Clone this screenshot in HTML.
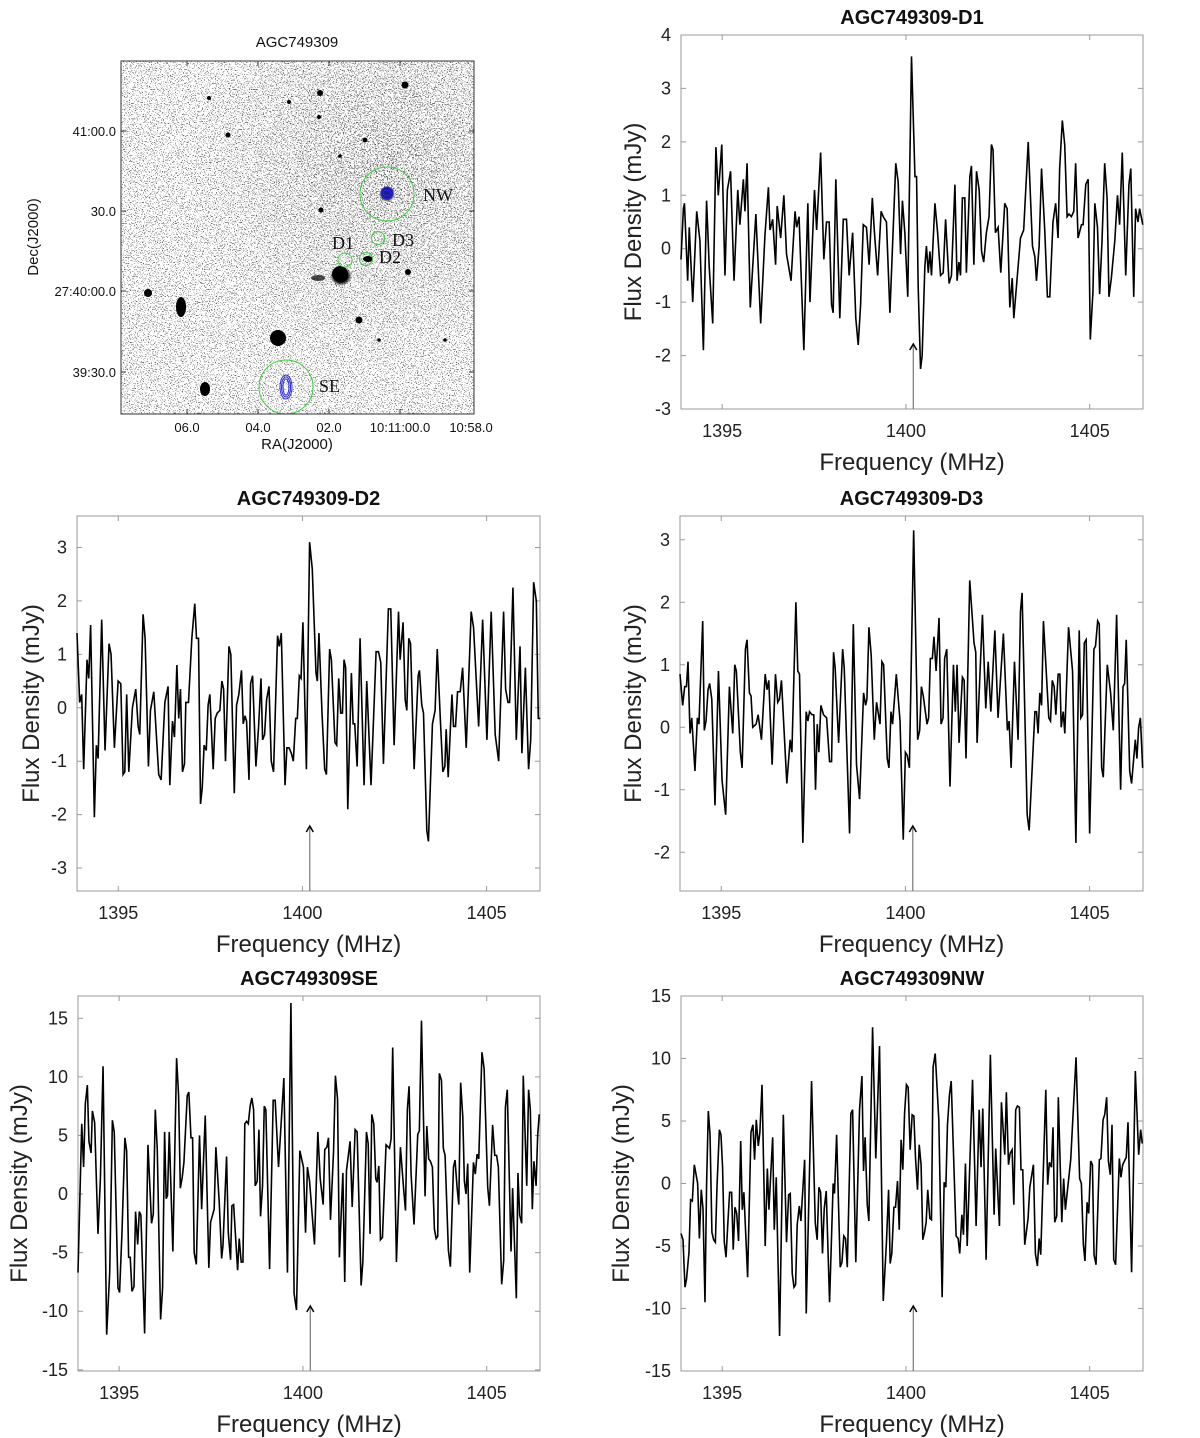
<!DOCTYPE html>
<html>
<head>
<meta charset="utf-8">
<style>
  html,body{margin:0;padding:0;background:#fff;}
  svg{display:block;font-family:"Liberation Sans",Arial,sans-serif;}
</style>
</head>
<body>
<svg id="fig" width="1200" height="1438" viewBox="0 0 1200 1438" xmlns="http://www.w3.org/2000/svg">
  <defs>
    <filter id="speckle" x="0" y="0" width="1" height="1">
      <feTurbulence type="fractalNoise" baseFrequency="0.85" numOctaves="1" seed="7" result="n"/>
      <feColorMatrix in="n" type="matrix" values="0 0 0 0 0  0 0 0 0 0  0 0 0 0 0  -14 0 0 0 5.9"/>
    </filter>
    <filter id="speckle2" x="0" y="0" width="1" height="1">
      <feTurbulence type="fractalNoise" baseFrequency="0.7" numOctaves="1" seed="21" result="n"/>
      <feColorMatrix in="n" type="matrix" values="0 0 0 0 0  0 0 0 0 0  0 0 0 0 0  -12 0 0 0 5.1"/>
    </filter>
    <radialGradient id="densityGrad" cx="0.75" cy="0.3" r="0.55">
      <stop offset="0" stop-color="#fff"/>
      <stop offset="1" stop-color="#000"/>
    </radialGradient>
    <mask id="densityMask"><rect x="121" y="61" width="353" height="353" fill="url(#densityGrad)"/></mask>
    <clipPath id="imgclip"><rect x="121" y="61" width="353" height="353"/></clipPath>
    <radialGradient id="blob"><stop offset="0.6" stop-color="#000"/><stop offset="1" stop-color="#000" stop-opacity="0"/></radialGradient>
  </defs>

  <!-- Image panel -->
  <g>
    <text x="297" y="47" font-size="15" text-anchor="middle" fill="#111">AGC749309</text>
    <g clip-path="url(#imgclip)">
      <rect x="121" y="61" width="353" height="353" fill="#fff"/>
      <rect x="121" y="61" width="353" height="353" filter="url(#speckle)" opacity="0.6"/>
      <g mask="url(#densityMask)"><rect x="121" y="61" width="353" height="353" filter="url(#speckle2)" opacity="0.6"/></g>
      <g fill="#000">
        <circle cx="405" cy="85" r="3.5"/>
        <circle cx="320" cy="93" r="3"/>
        <circle cx="289" cy="102" r="2"/>
        <circle cx="209" cy="98" r="2"/>
        <circle cx="228" cy="135" r="2.5"/>
        <circle cx="319" cy="117" r="2"/>
        <circle cx="365" cy="140" r="2.5"/>
        <circle cx="340" cy="156" r="1.8"/>
        <circle cx="321" cy="210" r="2.5"/>
        <circle cx="387" cy="194" r="8" fill="url(#blob)"/>
        <ellipse cx="341" cy="276" rx="11" ry="10" fill="url(#blob)"/>
        <circle cx="340" cy="274" r="8"/>
        <ellipse cx="318" cy="278" rx="7" ry="3" opacity="0.7"/>
        <ellipse cx="368" cy="259" rx="5" ry="3"/>
        <circle cx="408" cy="272" r="3"/>
        <circle cx="148" cy="293" r="4"/>
        <ellipse cx="181" cy="307" rx="5" ry="10"/>
        <circle cx="278" cy="338" r="8"/>
        <circle cx="359" cy="320" r="3.5"/>
        <circle cx="379" cy="340" r="1.8"/>
        <circle cx="445" cy="340" r="1.8"/>
        <ellipse cx="205" cy="389" rx="5" ry="7"/>
      </g>
      <g fill="none" stroke="#2a2ae0" stroke-width="1">
        <circle cx="387" cy="193" r="6" fill="#1a1a9a"/>
        <ellipse cx="387" cy="193" rx="4" ry="3"/>
        <ellipse cx="286" cy="387" rx="6" ry="12"/>
        <ellipse cx="286" cy="387" rx="4.5" ry="10"/>
        <ellipse cx="286" cy="387" rx="3" ry="8"/>
      </g>
      <g fill="none" stroke="#3fcf3f" stroke-width="1">
        <circle cx="387" cy="194" r="27"/>
        <circle cx="286" cy="387" r="27"/>
        <circle cx="345" cy="260" r="7"/>
        <circle cx="366" cy="259" r="6.5"/>
        <circle cx="378" cy="238" r="6.5"/>
      </g>
    </g>
    <rect x="121" y="61" width="353" height="353" fill="none" stroke="#333" stroke-width="1"/>
    <g font-family="'Liberation Serif',serif" font-size="18" fill="#111">
      <text x="423" y="201">NW</text>
      <text x="319" y="392">SE</text>
      <text x="332" y="249">D1</text>
      <text x="392" y="246">D3</text>
      <text x="379" y="263">D2</text>
    </g>
    <g stroke="#333" stroke-width="1">
      <line x1="121" y1="131" x2="126" y2="131"/><line x1="121" y1="211" x2="126" y2="211"/>
      <line x1="121" y1="291" x2="126" y2="291"/><line x1="121" y1="372" x2="126" y2="372"/>
      <line x1="474" y1="131" x2="469" y2="131"/><line x1="474" y1="211" x2="469" y2="211"/>
      <line x1="474" y1="291" x2="469" y2="291"/><line x1="474" y1="372" x2="469" y2="372"/>
      <line x1="187" y1="414" x2="187" y2="409"/><line x1="258" y1="414" x2="258" y2="409"/>
      <line x1="329" y1="414" x2="329" y2="409"/><line x1="400" y1="414" x2="400" y2="409"/>
      <line x1="187" y1="61" x2="187" y2="66"/><line x1="258" y1="61" x2="258" y2="66"/>
      <line x1="329" y1="61" x2="329" y2="66"/><line x1="400" y1="61" x2="400" y2="66"/>
    </g>
    <g font-size="13" fill="#111" text-anchor="end">
      <text x="116" y="136">41:00.0</text>
      <text x="116" y="216">30.0</text>
      <text x="116" y="296">27:40:00.0</text>
      <text x="116" y="377">39:30.0</text>
    </g>
    <g font-size="13" fill="#111" text-anchor="middle">
      <text x="187" y="432">06.0</text>
      <text x="258" y="432">04.0</text>
      <text x="329" y="432">02.0</text>
      <text x="400" y="432">10:11:00.0</text>
      <text x="471" y="432">10:58.0</text>
    </g>
    <text x="297" y="449" font-size="15" text-anchor="middle" fill="#111">RA(J2000)</text>
    <text transform="translate(38,237) rotate(-90)" font-size="15" text-anchor="middle" fill="#111">Dec(J2000)</text>
  </g>
  <g id="panels"></g>
</svg>

<script>
// ---- Data ----
const startFreqMHz = 1393.88;
const endFreqMHz = 1406.45;
const channelWidthMHz = 0.0725;
const restFreqMHz = 1400.2;
const xTickValues = [1395, 1400, 1405];
const xTickLabels = ["1395", "1400", "1405"];
const d1YTicks = [-3, -2, -1, 0, 1, 2, 3, 4];
const d2YTicks = [-3, -2, -1, 0, 1, 2, 3];
const d3YTicks = [-2, -1, 0, 1, 2, 3];
const seYTicks = [-15, -10, -5, 0, 5, 10, 15];
const nwYTicks = [-15, -10, -5, 0, 5, 10, 15];
const panelTitles = ["AGC749309-D1", "AGC749309-D2", "AGC749309-D3", "AGC749309SE", "AGC749309NW"];

// [channel, flux mJy]
const d1Spectrum = [[0,-0.2],[0.9,0.75],[1.3,0.85],[2.5,-0.6],[3.1,0.4],[4.4,-1.0],[5.9,0.7],[7.1,0.15],[8.4,-1.9],[9.6,0.9],[10.6,-0.35],[11.9,-1.4],[13.1,1.9],[14,1.0],[15.3,1.95],[16.5,-0.5],[17.4,1.1],[18.6,1.45],[19.9,-0.6],[21.3,1.1],[22.1,0.45],[23.4,1.3],[24,0.7],[24.8,1.6],[26,-1.1],[28.1,0.65],[29.9,-1.4],[31.5,0.25],[32.8,1.15],[33.4,0.35],[34.4,0.55],[35.5,-0.3],[36.1,0.8],[37.4,0.2],[38.6,1.0],[39.6,-0.1],[41.3,-0.6],[42.8,0.7],[43.4,0.4],[44.3,0.6],[46.1,-1.9],[47.6,0.85],[48.4,-1.0],[50.1,1.1],[50.9,0.35],[52.4,1.8],[53.6,-0.2],[54.6,0.5],[55.6,0.5],[56.5,-1.05],[57.1,-1.2],[58.1,1.3],[59.6,-1.3],[60.9,0.55],[62.1,0.55],[63.1,-0.5],[64.4,0.3],[65.6,-1.3],[66.5,-1.8],[67.4,-1.05],[68.4,0.45],[69.6,0.4],[70.6,-0.3],[71.8,0.95],[72.6,0.3],[73.8,-0.5],[75.1,0.7],[75.9,0.6],[77.1,0.5],[78.4,-1.2],[80.6,1.6],[81.5,1.25],[82.4,-0.1],[83.1,0.9],[84,0.3],[85.1,-0.9],[86.5,3.6],[87.8,1.35],[88.4,1.35],[89,-0.7],[89.9,-2.25],[90.5,-2.0],[91.5,-0.35],[92.1,0.05],[92.8,-0.45],[93.4,-0.05],[94,-0.5],[95.3,0.85],[96.3,0.3],[97.4,-0.5],[98.4,-0.45],[99.3,0.55],[100.6,-0.65],[101.5,-0.5],[102.8,1.2],[103.6,-0.6],[104.3,-0.25],[104.9,-0.5],[105.6,0.95],[106.5,0.95],[107.1,-0.45],[108.4,1.35],[109,1.55],[109.9,-0.3],[110.9,1.45],[111.9,1.1],[112.8,-0.05],[113.6,-0.25],[114.6,0.3],[115.6,0.6],[116.5,1.95],[117.1,1.85],[118,0.3],[119,0.4],[120,-0.45],[121.5,0.85],[122.4,0.75],[123.4,-1.1],[124.3,-0.55],[124.9,-1.3],[125.9,-0.7],[127.4,0.2],[128.6,0.35],[130.3,2.0],[131.9,0.05],[132.8,-0.15],[133.4,-0.6],[134.4,0.05],[135.3,1.5],[136.5,0.35],[137.5,-0.9],[138.4,-0.9],[139.6,0.5],[140.6,0.85],[141.5,0.2],[142.1,1.5],[143.1,2.4],[144,1.95],[144.9,0.6],[145.6,0.65],[146.5,0.6],[147.4,0.7],[148.1,1.6],[149,0.2],[150.3,0.45],[150.9,0.45],[151.9,1.2],[152.8,1.3],[153.6,-1.7],[154.6,-0.8],[155.3,0.85],[156.3,0.4],[157.1,-0.85],[158,0.15],[159,1.6],[159.9,0.95],[160.6,-0.9],[161.5,-0.55],[162.8,0.15],[163.8,1.0],[164.6,0.45],[165.6,1.8],[166.9,-0.5],[168.1,1.2],[168.8,1.5],[169.9,-0.9],[170.6,0.75],[171.5,0.5],[172.1,0.75],[173.3,0.45]];

const d2Spectrum = [[0,1.4],[1,0.1],[1.75,0.25],[2.5,-1.15],[3.75,0.9],[4.4,0.55],[5.1,1.55],[6.5,-2.05],[7.25,-0.7],[7.9,-0.95],[9.25,1.65],[10.5,-0.8],[12,1.2],[12.75,1.0],[14,-0.75],[15.4,0.5],[16.4,0.45],[17.25,-1.25],[17.9,-1.2],[18.6,0.25],[19.4,-1.2],[20.75,0],[22,0.35],[22.9,-0.35],[23.5,-0.5],[24.75,1.75],[25.5,1.3],[26.75,-1.1],[27.5,-0.05],[28.75,0.3],[30.6,-1.25],[31.5,-1.35],[32.9,0.1],[34.1,0.4],[34.75,-1.45],[35.75,-0.25],[36.5,-0.55],[37.4,0.8],[38.1,-0.2],[38.75,0.35],[39.5,-1.2],[40.25,-1.05],[40.75,0.1],[41.75,0.1],[43,1.3],[44.1,1.95],[44.75,1.3],[45.5,1.3],[46.25,-1.8],[46.9,-1.5],[47.6,-0.7],[48.4,-0.8],[49.1,0.05],[49.75,0.25],[51,-1.15],[51.75,-0.2],[52.5,-0.1],[53.5,-0.05],[54.25,0.5],[54.9,0.35],[55.6,-1.0],[56.9,1.15],[57.6,1.0],[58.9,-1.6],[59.75,0.05],[60.6,0.25],[61.6,0.7],[62.25,-0.3],[62.9,-0.15],[63.5,-0.25],[64.4,-1.35],[65,0.45],[65.75,0.6],[67,-1.1],[68,-0.35],[68.9,0.55],[69.5,-0.6],[70.25,-0.5],[71,0.15],[71.9,0.4],[72.75,-1.0],[73.6,-1.2],[75.1,1.35],[75.75,1.15],[76.5,1.4],[77.9,-1.45],[78.6,-0.75],[79.4,-0.75],[80.25,-0.85],[81,-1.0],[81.9,-0.2],[82.5,-0.2],[83.25,0.6],[83.9,0.55],[84.6,1.6],[85.9,-1.15],[87.1,3.1],[88.1,2.6],[89.5,0.65],[90,0.5],[90.6,1.4],[91.75,-0.1],[92.75,-1.15],[93.4,-1.25],[94.6,1.1],[95.25,0.9],[96.6,-0.65],[97.25,-0.7],[98,0.55],[98.75,-0.1],[99.4,-0.1],[100,0.9],[100.6,0.75],[101.4,-1.9],[102.75,0.65],[103.4,-0.3],[104,-0.3],[104.9,-1.1],[106,1.3],[107.5,-1.45],[108.5,0.5],[110.1,-1.45],[112,1.05],[112.9,1.05],[113.75,0.85],[114.75,-1.05],[116.6,1.85],[117.5,1.85],[118.75,-0.7],[120.4,1.8],[121,0.9],[122.1,1.6],[122.9,0.15],[123.5,-0.05],[124.25,1.3],[124.9,1.2],[126.25,-1.15],[127.75,0.6],[128.25,0.7],[129.1,0.05],[129.75,-0.1],[131,-2.3],[131.6,-2.5],[133.1,-0.3],[134.1,-0.05],[134.9,1.1],[136,-0.15],[137,-1.2],[137.75,-1.1],[138.25,-0.4],[139,-1.3],[140.4,0.25],[141,-0.35],[141.75,-0.35],[142.5,0.3],[143.5,0.3],[144.4,0.75],[145.75,-0.75],[147.6,1.8],[148.5,1.5],[150.4,-0.35],[151.9,1.65],[153.5,-0.6],[155.1,1.8],[156.6,-0.5],[157.9,-1.0],[159.75,1.8],[160.5,0.35],[161.4,0.1],[162,0.1],[163.25,2.25],[164.5,-0.6],[165.9,1.15],[166.6,-0.85],[167.9,0.75],[169.1,-1.15],[169.9,-0.6],[171,2.35],[172,2.0],[172.75,-0.2],[173.5,-0.2]];

const d3Spectrum = [[0,0.85],[1,0.35],[1.75,0.65],[2.4,0.65],[3,1.05],[3.75,-0.1],[4.4,0.15],[5.6,-0.7],[6.5,0.15],[7.1,0.05],[8.5,1.7],[9.1,-0.05],[9.75,0.1],[10.5,0.6],[11.1,0.7],[11.9,0.45],[13.1,-1.25],[14.4,0.9],[15.75,-0.85],[17.1,-1.4],[18.5,0.65],[19.75,-0.1],[20.5,1.0],[21.1,0.9],[22.6,-0.4],[23.25,-0.65],[24.5,1.25],[25.1,1.4],[26,0.55],[26.6,0.5],[27.25,0],[28.5,0.05],[29.25,0.2],[30.5,-0.2],[31.9,0.85],[32.6,0.6],[33.25,0.75],[34.5,-0.6],[35.75,0.85],[36.6,0.4],[37.25,0.45],[38,0.75],[40,-0.9],[41.25,-0.2],[41.9,-0.4],[43.4,2.0],[44.1,0.9],[44.75,0.85],[46,-1.85],[47.25,0.25],[47.9,0.1],[48.5,0.25],[49.4,0.2],[50.1,0.2],[50.75,-1.0],[51.4,0.05],[52,-0.4],[52.75,0.35],[53.75,0.2],[54.9,0.15],[56,-0.55],[56.75,-0.55],[57.5,1.2],[58.1,0.95],[59.4,-0.25],[60.9,1.25],[61.5,0.95],[63.5,-1.7],[64.9,1.65],[66.1,-0.6],[67.25,-1.15],[68.75,0.55],[69.5,0.35],[70,0.45],[70.75,1.6],[71.6,1.15],[72.75,-0.2],[73.6,0.4],[74.9,0.05],[75.6,1.05],[76.25,1.0],[77.6,-0.5],[78.25,-0.65],[79,0.25],[79.6,0.05],[81,0.85],[82.4,0.1],[83.6,-1.8],[84.4,-0.4],[85.1,-0.45],[85.9,-0.65],[87.5,3.15],[89,-0.2],[89.75,-0.05],[90.4,0.65],[91.1,0.5],[92.5,0.05],[93.1,0.15],[93.75,1.1],[94.5,1.1],[95.1,1.45],[95.9,0.9],[97,1.75],[97.75,0.05],[98.5,0.15],[99.1,1.1],[99.9,1.25],[101.1,-0.95],[102.4,1.0],[103.1,0.25],[103.75,1.0],[104.5,-0.25],[105.75,0.8],[106.4,0.75],[107.1,-0.5],[108.5,2.35],[110.1,1.35],[110.75,1.2],[111.25,-0.25],[113.25,1.8],[114.5,0.3],[115.4,1.05],[116.4,0.25],[117.9,1.55],[119.1,0.15],[121.1,1.5],[122.6,-0.05],[123.25,0.1],[124,-0.65],[125.25,1.05],[126.6,-0.2],[127.5,1.85],[128.1,2.15],[130,-1.4],[130.75,-1.65],[132.9,0.25],[133.5,0.25],[134.1,-0.1],[134.75,0.55],[135.4,0.35],[136.1,1.7],[138.1,0.15],[138.75,0.1],[139.4,0.75],[140.1,0.65],[140.75,0.2],[141.6,0.85],[142.25,0.85],[142.75,0],[143.5,0.25],[144.1,-0.1],[145.5,1.6],[147,0.9],[148.25,-1.85],[149.5,1.55],[150.1,0.15],[150.75,0.2],[151.4,1.35],[152.1,1.4],[153.4,-1.7],[155,1.25],[155.6,1.3],[156.4,1.7],[157,1.65],[157.9,-0.65],[158.5,-0.8],[160,1.0],[161.25,0.55],[162.25,-0.05],[163.5,1.8],[165,-1.0],[165.9,0.65],[166.5,0.7],[167.1,1.4],[168.4,-0.7],[169.1,-0.9],[170.5,-0.2],[171.1,-0.5],[171.75,0],[172.4,0.15],[173.25,-0.65]];

const seSpectrum = [[0,-6.7],[1.4,6.0],[2.1,2.3],[2.75,7.7],[3.5,9.3],[4.1,4.5],[4.9,3.5],[5.4,7.1],[6.25,6.1],[7.5,-3.4],[8.4,1.3],[9.4,10.9],[10.75,-12.0],[11.9,-6.7],[12.9,6.3],[13.6,5.3],[15,-8.0],[15.6,-8.4],[16.5,-3.3],[17.6,4.8],[18.25,3.7],[19,-5.4],[19.6,-5.4],[20.25,-8.3],[21,-7.9],[21.6,-1.5],[22.4,-4.3],[23,-1.5],[23.6,-1.8],[25,-11.9],[26.25,4.2],[27.6,-2.5],[28.25,-1.7],[29,7.2],[29.75,3.8],[31,-10.7],[31.75,-8.0],[32.5,5.3],[33.1,-0.4],[33.6,-0.1],[34.25,5.3],[35.6,-4.9],[37,11.6],[37.75,8.4],[38.4,0.5],[39.1,1.4],[39.75,2.7],[41,8.4],[41.6,8.7],[42.4,4.8],[43,4.8],[43.6,-5.0],[44.4,-6.0],[45.6,5.0],[46.4,-1.3],[47.75,6.7],[49.1,-6.3],[49.75,-2.4],[51.1,-1.3],[51.75,4.0],[53,-0.7],[53.9,-5.5],[54.4,-4.4],[55.75,3.2],[56.4,-3.3],[57.25,-5.6],[57.75,-1.0],[58.4,-0.9],[59.9,-6.5],[60.5,-3.8],[61.25,-5.8],[61.9,-5.8],[62.6,6.0],[63.25,6.2],[63.9,6.0],[64.6,7.5],[65.25,8.2],[65.9,7.2],[66.5,0.7],[67.25,1.1],[67.9,5.5],[68.5,-1.9],[69.25,0.7],[69.9,7.5],[70.5,7.2],[71.9,-6.4],[73.25,8.0],[74,8.0],[75.25,2.3],[77.25,9.9],[78.6,-6.7],[79.9,16.3],[81.1,-8.5],[82,-9.9],[83.25,3.7],[84.6,2.3],[85.4,-3.3],[86.1,2.3],[86.9,1.1],[88.75,-4.3],[90,5.3],[90.9,1.3],[92,-0.9],[92.6,3.8],[93.4,4.0],[94,4.8],[94.75,-2.2],[95.9,3.6],[96.6,10.1],[97.4,8.1],[98.1,-5.4],[99.4,1.8],[100.1,-7.5],[100.75,2.0],[102.1,4.5],[102.9,-1.1],[104,5.5],[104.75,5.3],[106.25,-7.8],[106.9,-5.8],[108.25,5.3],[108.9,4.3],[109.6,-3.4],[110.25,6.8],[111,6.0],[111.75,1.3],[112.25,1.0],[112.9,2.4],[113.5,-3.9],[114.25,-3.7],[115.6,4.2],[116.9,3.9],[117.5,4.7],[118.1,12.5],[119.5,-5.8],[121,4.0],[122.25,0.3],[122.9,-1.4],[123.6,7.2],[124.25,9.2],[125,1.7],[126.1,-2.6],[127.5,5.1],[128.1,5.4],[128.9,14.8],[130.25,-0.2],[130.9,5.8],[131.6,3.0],[132.25,2.8],[133,2.3],[133.75,-3.0],[134.4,-3.8],[135,-3.6],[135.6,10.3],[136.4,9.7],[137.1,3.9],[137.75,3.3],[139,-4.8],[139.75,-6.2],[140.9,2.3],[141.5,2.9],[142.25,0.6],[142.9,-0.9],[143.6,9.5],[144.4,6.6],[145,1.1],[145.6,0],[146.25,2.6],[147,-6.7],[148.4,2.7],[149.1,1.7],[149.75,3.4],[150.4,3.0],[151.6,12.1],[152.4,10.7],[153.75,0.6],[154.4,-1.0],[155.6,5.9],[156.4,3.3],[157.1,3.3],[157.75,2.3],[159,-7.7],[159.75,-5.7],[160.4,7.4],[161.1,8.9],[162.5,-4.9],[163.1,0.5],[164.5,-8.9],[165.1,1.8],[165.75,-1.8],[166.5,-2.5],[167.1,10.1],[168.4,0.7],[169.1,8.9],[169.75,7.2],[170.5,-1.3],[171.1,2.8],[171.9,0.7],[172.5,5.0],[173.1,6.8]];

const nwSpectrum = [[0,-4.0],[0.75,-4.5],[1.5,-8.3],[2.1,-7.6],[3,-5.5],[3.6,-1.3],[4.25,-1.4],[5,1.5],[6.25,0],[6.9,-4.4],[7.6,-0.5],[8.25,-2.0],[9,-9.5],[9.6,-0.1],[10.25,5.8],[10.9,3.9],[11.6,-3.9],[12.25,-4.5],[12.9,-4.7],[13.5,-0.3],[14.4,4.3],[15,3.9],[15.6,1.3],[16.25,-4.7],[16.9,-5.9],[17.6,-3.1],[18.25,-0.7],[19,-0.7],[19.6,-5.3],[20.25,-1.9],[20.9,-2.4],[21.6,-4.6],[22.4,3.4],[23,-2.1],[23.6,-0.7],[25,-7.5],[26.25,4.1],[27,4.7],[27.6,1.9],[28.25,5.1],[29,3.0],[29.6,4.1],[30.4,7.9],[31.6,-5.0],[32.4,1.2],[33,-2.1],[34.4,3.7],[35,-3.7],[35.75,0.5],[37,-12.2],[38.4,5.5],[39.6,-4.7],[40.4,-0.9],[41,-0.8],[41.75,-7.2],[42.4,-8.3],[43,-8.1],[43.6,-3.3],[44.4,-1.8],[45,-3.0],[46.4,1.9],[47,-10.4],[49,8.2],[50.4,-3.2],[51.1,-4.5],[51.75,-0.3],[52.4,-0.7],[53.1,-5.6],[53.75,-2.0],[54.5,-0.6],[55.75,-9.5],[57.1,0],[57.6,-0.8],[58.4,3.9],[59.75,-6.7],[60.4,-6.3],[61.1,-4.2],[61.75,-4.4],[62.4,-6.7],[63.75,5.6],[64.4,5.9],[65.6,-6.3],[67,5.9],[67.9,8.6],[68.5,1.0],[69.1,3.7],[69.9,-1.7],[70.5,-3.0],[71.9,12.5],[73.1,2.0],[74.5,11.0],[75.9,-9.4],[77.1,-4.7],[77.9,-0.5],[78.5,-6.4],[79.1,-5.6],[79.9,-1.9],[80.5,-1.9],[81.25,0.2],[81.9,-3.7],[82.6,3.5],[83.25,1.1],[83.9,5.6],[84.6,7.9],[85.25,7.7],[86,2.7],[86.75,5.5],[87.4,5.4],[88,2.1],[88.75,-0.5],[89.4,3.1],[90.1,1.5],[90.75,-4.5],[91.4,-3.9],[92,-3.1],[92.6,-0.5],[93.4,-2.8],[94,-2.9],[94.6,9.3],[95.4,10.4],[96.75,5.1],[98,-9.1],[98.75,0.1],[99.4,-0.3],[100,4.7],[100.75,7.1],[101.4,8.2],[103.25,-4.2],[104,-4.4],[104.6,-5.6],[105.4,-2.5],[106,-4.1],[106.75,1.6],[107.4,-5.0],[109.4,8.3],[110.75,-3.4],[111.9,5.9],[112.6,1.3],[113.25,6.0],[114.5,-6.1],[116.1,10.3],[117.5,-2.5],[118.1,2.8],[119.5,-3.4],[120.25,6.5],[121.5,2.3],[122.1,7.3],[122.9,1.5],[123.5,2.4],[124.25,2.7],[124.9,-1.7],[125.6,5.9],[126.25,6.2],[127,6.1],[127.6,1.1],[128.25,1.1],[129,-4.9],[130.25,-2.8],[130.9,-0.3],[132.25,1.5],[133,-5.6],[133.75,-6.6],[134.4,-4.4],[135,-5.7],[136.9,7.5],[137.6,-0.1],[138.25,1.7],[139,1.3],[139.6,4.5],[140.25,-3.1],[141,-2.6],[141.6,6.9],[142.9,-3.1],[143.6,0.4],[144.25,-2.1],[146.25,1.9],[148.25,10.1],[149.6,0.4],[150.25,0],[151,-4.9],[151.6,-6.2],[152.4,-1.5],[153,-2.4],[153.75,1.8],[154.4,1.5],[155,-5.7],[155.75,-6.5],[157,1.9],[157.6,2.0],[158.4,5.1],[159,5.5],[159.75,6.9],[160.4,1.8],[161.1,0.7],[161.75,4.7],[162.4,-6.1],[163.1,-6.5],[164.5,2.0],[165.1,0.5],[165.75,1.5],[167.1,2.1],[167.75,4.9],[169.1,-7.1],[170.5,9.0],[171.75,2.3],[172.5,4.3],[173.1,3.2]];

// ---- Layout (pixels) ----
const NS = "http://www.w3.org/2000/svg";
const panelsG = document.getElementById("panels");

function mk(tag, attrs, parent) {
  const el = document.createElementNS(NS, tag);
  for (const k in attrs) el.setAttribute(k, attrs[k]);
  parent.appendChild(el);
  return el;
}

const panelLayouts = [
  { key: "d1", spectrum: d1Spectrum, yTicks: d1YTicks, title: panelTitles[0], box: [681, 1143, 35, 409], yDomain: [-3, 4.0], yTitleDx: 49 },
  { key: "d2", spectrum: d2Spectrum, yTicks: d2YTicks, title: panelTitles[1], box: [77, 540, 516, 891], yDomain: [-3.43, 3.59], yTitleDx: 47 },
  { key: "d3", spectrum: d3Spectrum, yTicks: d3YTicks, title: panelTitles[2], box: [680, 1143, 516, 891], yDomain: [-2.62, 3.38], yTitleDx: 48 },
  { key: "se", spectrum: seSpectrum, yTicks: seYTicks, title: panelTitles[3], box: [78, 540, 996, 1371], yDomain: [-15.1, 16.9], yTitleDx: 60 },
  { key: "nw", spectrum: nwSpectrum, yTicks: nwYTicks, title: panelTitles[4], box: [681, 1143, 996, 1371], yDomain: [-15, 15], yTitleDx: 61 }
];

panelLayouts.forEach(function (p) {
  const [x0, x1, y0, y1] = p.box;
  const xScale = f => x0 + (f - startFreqMHz) / (endFreqMHz - startFreqMHz) * (x1 - x0);
  const yScale = v => y1 - (v - p.yDomain[0]) / (p.yDomain[1] - p.yDomain[0]) * (y1 - y0);

  const g = mk("g", {}, panelsG);
  
  

  const title = mk("text", { x: (x0 + x1) / 2, y: y0 - 11, "font-size": 20, "font-weight": "bold", "text-anchor": "middle", fill: "#111" }, g);
  title.textContent = p.title;
  
  

  const frame = mk("rect", { x: x0, y: y0, width: x1 - x0, height: y1 - y0, fill: "none", stroke: "#9a9a9a", "stroke-width": 1 }, g);
  
  

  xTickValues.forEach(function (t, i) {
    const x = xScale(t);
    const tk = mk("path", { d: `M${x},${y1}v-5M${x},${y0}v5`, stroke: "#9a9a9a", "stroke-width": 1 }, g);
    
    
    const lb = mk("text", { x: x, y: y1 + 28, "font-size": 18, "text-anchor": "middle", fill: "#222" }, g);
    lb.textContent = xTickLabels[i];
    
    
  });

  p.yTicks.forEach(function (t) {
    const y = yScale(t);
    const tk = mk("path", { d: `M${x0},${y}h5M${x1},${y}h-5`, stroke: "#9a9a9a", "stroke-width": 1 }, g);
    
    
    const lb = mk("text", { x: x0 - 10, y: y + 6, "font-size": 18, "text-anchor": "end", fill: "#222" }, g);
    lb.textContent = String(t);
    
    
  });

  const xt = mk("text", { x: (x0 + x1) / 2, y: y1 + 61, "font-size": 24, "text-anchor": "middle", fill: "#222" }, g);
  xt.textContent = "Frequency (MHz)";
  
  

  const yc = (y0 + y1) / 2;
  const yt = mk("text", { transform: `translate(${x0 - p.yTitleDx + 9},${yc}) rotate(-90)`, "font-size": 24, "text-anchor": "middle", fill: "#222" }, g);
  yt.textContent = "Flux Density (mJy)";
  
  

  const d = p.spectrum.map((pt, i) => (i ? "L" : "M") + xScale(startFreqMHz + pt[0] * channelWidthMHz).toFixed(2) + "," + yScale(pt[1]).toFixed(2)).join("");
  const line = mk("path", { d: d, fill: "none", stroke: "#000", "stroke-width": 1.6, "stroke-linejoin": "miter", "stroke-miterlimit": 4 }, g);
  
  

  const ax = xScale(restFreqMHz);
  const arrowTop = y1 - 65;
  const shaft = mk("line", { x1: ax, y1: y1, x2: ax, y2: arrowTop, stroke: "#777", "stroke-width": 1.2 }, g);
  
  
  const head = mk("path", { d: `M${ax - 3.5},${arrowTop + 6}L${ax},${arrowTop}L${ax + 3.5},${arrowTop + 6}`, fill: "none", stroke: "#000", "stroke-width": 1.5 }, g);
  
  
});
</script>
</body>
</html>
